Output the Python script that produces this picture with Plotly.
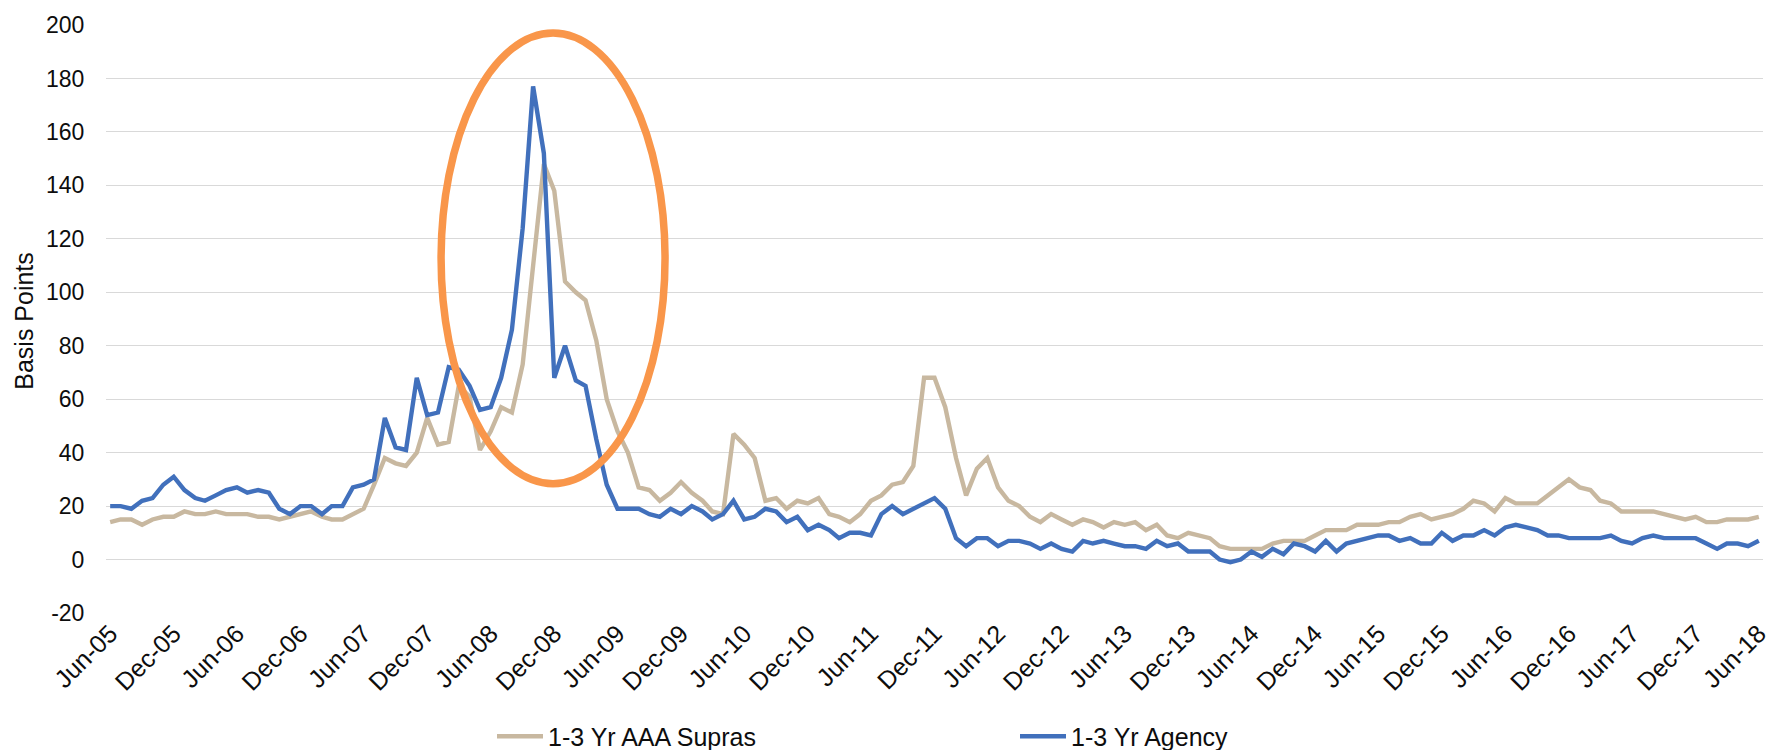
import pandas as pd
import plotly.graph_objects as go

# Monthly spread observations, Jun-2005 .. Jun-2018 (basis points)
months = pd.date_range("2005-06-01", "2018-06-01", freq="MS")

supras_bp = [
    14, 15, 15, 13, 15, 16, 16, 18, 17, 17,
    18, 17, 17, 17, 16, 16, 15, 16, 17, 18,
    16, 15, 15, 17, 19, 28, 38, 36, 35, 40,
    53, 43, 44, 65, 61, 41, 48, 57, 55, 73,
    110, 148, 138, 104, 100, 97, 82, 60, 48, 40,
    27, 26, 22, 25, 29, 25, 22, 18, 17, 47,
    43, 38, 22, 23, 19, 22, 21, 23, 17, 16,
    14, 17, 22, 24, 28, 29, 35, 68, 68, 57,
    38, 24, 34, 38, 27, 22, 20, 16, 14, 17,
    15, 13, 15, 14, 12, 14, 13, 14, 11, 13,
    9, 8, 10, 9, 8, 5, 4, 4, 4, 4,
    6, 7, 7, 7, 9, 11, 11, 11, 13, 13,
    13, 14, 14, 16, 17, 15, 16, 17, 19, 22,
    21, 18, 23, 21, 21, 21, 24, 27, 30, 27,
    26, 22, 21, 18, 18, 18, 18, 17, 16, 15,
    16, 14, 14, 15, 15, 15, 16,
]

agency_bp = [
    20, 20, 19, 22, 23, 28, 31, 26, 23, 22,
    24, 26, 27, 25, 26, 25, 19, 17, 20, 20,
    17, 20, 20, 27, 28, 30, 53, 42, 41, 68,
    54, 55, 72, 71, 65, 56, 57, 68, 86, 124,
    177, 152, 68, 80, 67, 65, 45, 28, 19, 19,
    19, 17, 16, 19, 17, 20, 18, 15, 17, 22,
    15, 16, 19, 18, 14, 16, 11, 13, 11, 8,
    10, 10, 9, 17, 20, 17, 19, 21, 23, 19,
    8, 5, 8, 8, 5, 7, 7, 6, 4, 6,
    4, 3, 7, 6, 7, 6, 5, 5, 4, 7,
    5, 6, 3, 3, 3, 0, -1, 0, 3, 1,
    4, 2, 6, 5, 3, 7, 3, 6, 7, 8,
    9, 9, 7, 8, 6, 6, 10, 7, 9, 9,
    11, 9, 12, 13, 12, 11, 9, 9, 8, 8,
    8, 8, 9, 7, 6, 8, 9, 8, 8, 8,
    8, 6, 4, 6, 6, 5, 7,
]

series_names = ["1-3 Yr AAA Supras", "1-3 Yr Agency"]
series_colors = ["#C8B8A0", "#4170BC"]

# Y-axis ticks, labelled with a plain hyphen for negatives
y_ticks = [-20, 0, 20, 40, 60, 80, 100, 120, 140, 160, 180, 200]
y_tick_labels = ["-20", "0", "20", "40", "60", "80", "100", "120", "140", "160", "180", "200"]

# Crisis window highlighted by the ellipse (date span, bp span)
crisis_dates = ["2008-01-10", "2009-10-16"]
crisis_bp = [28.4, 197.0]

FONT = "Liberation Sans, Arial, sans-serif"
INK = "#0d0d0d"

fig = go.Figure()
fig.add_trace(go.Scatter(
    x=months, y=supras_bp, mode="lines", name=series_names[0],
    line=dict(color=series_colors[0], width=4.4), legend="legend",
))
fig.add_trace(go.Scatter(
    x=months, y=agency_bp, mode="lines", name=series_names[1],
    line=dict(color=series_colors[1], width=4.4), legend="legend2",
))

fig.add_shape(
    type="circle", xref="x", yref="y",
    x0=crisis_dates[0], x1=crisis_dates[1], y0=crisis_bp[0], y1=crisis_bp[1],
    line=dict(color="#F9964A", width=7.5), layer="above",
)

fig.add_annotation(
    text="Basis Points", textangle=-90, showarrow=False,
    xref="paper", yref="paper", x=-0.0495, y=0.497,
    xanchor="center", yanchor="middle",
    font=dict(family=FONT, size=25, color=INK),
)

fig.update_xaxes(
    type="date", range=["2005-05-20", "2018-06-13"],
    tick0="2005-06-01", dtick="M6", tickformat="%b-%y", tickangle=-45,
    showgrid=False, zeroline=False, showline=False,
    ticks="",
    tickfont=dict(family=FONT, size=25, color=INK),
)
fig.update_yaxes(
    range=[-20, 200], tickmode="array", tickvals=y_ticks, ticktext=y_tick_labels,
    showgrid=True, gridcolor="#D9D9D9", gridwidth=1.3,
    zeroline=False, showline=False,
    ticks="outside", ticklen=16, tickcolor="rgba(0,0,0,0)",
    tickfont=dict(family=FONT, size=23, color=INK),
)

legend_common = dict(
    orientation="h", xref="container", yref="container",
    xanchor="left", yanchor="middle", bgcolor="rgba(0,0,0,0)",
    font=dict(family=FONT, size=25, color=INK), itemwidth=46,
)
fig.update_layout(
    width=1783, height=750,
    margin=dict(l=106, r=15, t=17, b=137),
    paper_bgcolor="white", plot_bgcolor="white",
    showlegend=True,
    legend=dict(x=492 / 1783, y=0.018, **legend_common),
    legend2=dict(x=1015 / 1783, y=0.018, **legend_common),
)

fig.write_html("out.html")
